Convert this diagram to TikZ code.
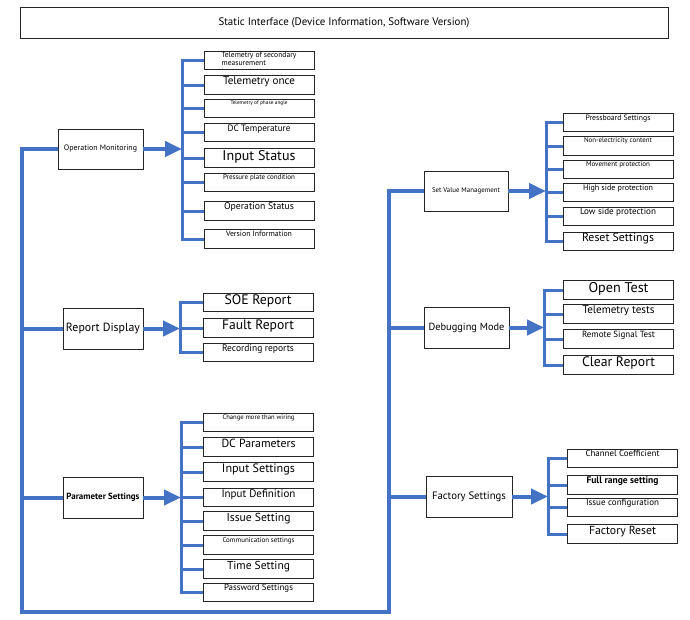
\documentclass[tikz,border=0pt]{standalone}
\usepackage{fontspec}
\setmainfont{PT Sans}
\usepackage{graphicx}
\usetikzlibrary{arrows.meta}
\definecolor{lnblue}{RGB}{68,114,196}
\newcommand{\fitw}[2]{\resizebox{#1pt}{!}{#2}}
\newcommand{\kidnode}[4]{\node[kid,label={[lab]north:\fitw{#3}{#4}}] (#1) at (#2) {};}
\begin{document}
\begin{tikzpicture}[x=1pt,y=-1pt,
 box/.style={draw=black!85, line width=0.8pt, inner sep=0pt},
 kid/.style={box, minimum width=110pt, minimum height=18.5pt},
 mainbox/.style={box, minimum height=41pt},
 lab/.style={anchor=north, inner sep=0pt, yshift=-1.5pt},
 trunk/.style={draw=lnblue, line width=4pt},
 brk/.style={draw=lnblue, line width=3pt, line cap=rect},
 tick/.style={draw=lnblue, line width=3pt},
 arr/.style={draw=lnblue, line width=4pt, -{Triangle[length=17pt,width=15pt]}},
]
\useasboundingbox[fill=white] (0,0) rectangle (690,619);

% top box
\node[box, minimum width=648pt, minimum height=31pt] (top) at (344,22.5) {\raisebox{2pt}{\fitw{251}{Static Interface (Device Information, Software Version)}}};

% main boxes
\node[mainbox, minimum width=85pt, minimum height=40pt] (om) at (100.5,149) {\fitw{73}{Operation Monitoring}};
\node[mainbox, minimum width=80pt] (rd) at (103,328.5) {\fitw{74}{Report Display}};
\node[mainbox, minimum width=80pt] (ps) at (103,497.5) {\fitw{73}{\bfseries Parameter Settings}};
\node[mainbox, minimum width=84pt, minimum height=40pt] (sv) at (466,191) {\fitw{68}{Set Value Management}};
\node[mainbox, minimum width=85pt] (dm) at (466.5,327.5) {\fitw{76}{Debugging Mode}};
\node[mainbox, minimum width=86pt] (fs) at (469,496.5) {\fitw{74}{Factory Settings}};

% trunk
\coordinate (bl) at (22,612);
\coordinate (br) at (389,612);
\draw[trunk] (om.west) -| (bl) -- (br) |- (sv.west);
\draw[trunk] (bl |- rd.west) -- (rd.west);
\draw[trunk] (bl |- ps.west) -- (ps.west);
\draw[trunk] (br |- dm.west) -- (dm.west);
\draw[trunk] (br |- fs.west) -- (fs.west);

% Operation Monitoring children
\node[kid,label={[lab,yshift=0.5pt,align=left,font=\fontsize{7.6}{8.2}\selectfont]north:Telemetry of secondary\\measurement}] (om1) at (259,60.5) {};
\kidnode{om2}{259,85}{72}{Telemetry once}
\kidnode{om3}{259,108.5}{57}{Telemetry of phase angle}
\kidnode{om4}{259,132.5}{63}{DC Temperature}
\kidnode{om5}{259,158}{73}{Input Status}
\kidnode{om6}{259,182.5}{72}{Pressure plate condition}
\kidnode{om7}{259,211}{70}{Operation Status}
\kidnode{om8}{259,239}{66}{Version Information}
\coordinate (omb) at (182,149);
\draw[arr] (om.east) -- (omb);
\draw[brk] (omb |- om1.west) -- (omb |- om8.west);
\foreach \i in {1,...,8} \draw[tick] (omb |- om\i.west) -- (om\i.west);

% Report Display children
\kidnode{rd1}{258,302.5}{67}{SOE Report}
\kidnode{rd2}{258,328}{72}{Fault Report}
\kidnode{rd3}{258,352.5}{72}{Recording reports}
\coordinate (rdb) at (180,328.5);
\draw[arr] (rd.east) -- (rdb);
\draw[brk] (rdb |- rd1.west) -- (rdb |- rd3.west);
\foreach \i in {1,...,3} \draw[tick] (rdb |- rd\i.west) -- (rd\i.west);

% Parameter Settings children
\kidnode{ps1}{258.5,422.5}{72}{Change more than wiring}
\kidnode{ps2}{258.5,447}{74}{DC Parameters}
\kidnode{ps3}{258.5,472}{73}{Input Settings}
\kidnode{ps4}{258.5,497.5}{74}{Input Definition}
\kidnode{ps5}{258.5,521}{64}{Issue Setting}
\kidnode{ps6}{258.5,545}{72}{Communication settings}
\kidnode{ps7}{258.5,569}{63}{Time Setting}
\kidnode{ps8}{258.5,592.5}{69}{Password Settings}
\coordinate (psb) at (181,497.5);
\draw[arr] (ps.east) -- (psb);
\draw[brk] (psb |- ps1.west) -- (psb |- ps8.west);
\foreach \i in {1,...,8} \draw[tick] (psb |- ps\i.west) -- (ps\i.west);

% Set Value Management children
\kidnode{sv1}{618,122.5}{65}{Pressboard Settings}
\kidnode{sv2}{618,146}{68}{Non-electricity content}
\kidnode{sv3}{618,169.5}{64}{Movement protection}
\kidnode{sv4}{618,192.5}{70}{High side protection}
\kidnode{sv5}{618,216.5}{76}{Low side protection}
\kidnode{sv6}{618,241.5}{72}{Reset Settings}
\coordinate (svb) at (546,191);
\draw[arr] (sv.east) -- (svb);
\draw[brk] (svb |- sv1.west) -- (svb |- sv6.west);
\foreach \i in {1,...,6} \draw[tick] (svb |- sv\i.west) -- (sv\i.west);

% Debugging Mode children
\kidnode{dm1}{618.5,290}{60}{Open Test}
\kidnode{dm2}{618.5,314}{72}{Telemetry tests}
\kidnode{dm3}{618.5,339}{73}{Remote Signal Test}
\kidnode{dm4}{618.5,365}{73}{Clear Report}
\coordinate (dmb) at (544,327.5);
\draw[arr] (dm.east) -- (dmb);
\draw[brk] (dmb |- dm1.west) -- (dmb |- dm4.west);
\foreach \i in {1,...,4} \draw[tick] (dmb |- dm\i.west) -- (dm\i.west);

% Factory Settings children
\kidnode{fs1}{622.5,458.5}{74}{Channel Coefficient}
\kidnode{fs2}{622.5,485}{72}{\bfseries Full range setting}
\kidnode{fs3}{622.5,507.5}{73}{Issue configuration}
\kidnode{fs4}{622.5,534}{67}{Factory Reset}
\coordinate (fsb) at (548,496.5);
\draw[arr] (fs.east) -- (fsb);
\draw[brk] (fsb |- fs1.west) -- (fsb |- fs4.west);
\foreach \i in {1,...,4} \draw[tick] (fsb |- fs\i.west) -- (fs\i.west);
\end{tikzpicture}
\end{document}
